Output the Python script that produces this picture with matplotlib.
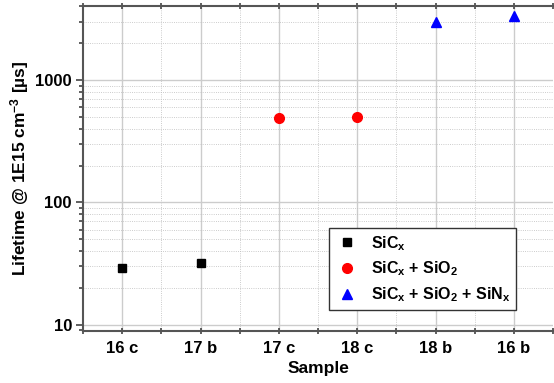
"""
Lifetime vs sample for different passivation stacks
"""

import numpy as np
import matplotlib.pyplot as plt
from matplotlib.ticker import LogLocator, NullFormatter, FixedLocator

#---------------------------------------------------------------------------------------------------
# Data
#---------------------------------------------------------------------------------------------------

samples = ['16 c', '17 b', '17 c', '18 c', '18 b', '16 b']

sicx_idx = [0, 1]
sicx_life = [29, 32]

sio2_idx = [2, 3]
sio2_life = [490, 495]

sinx_idx = [4, 5]
sinx_life = [2950, 3330]

labels = ['SiC$_\\mathbf{x}$', 'SiC$_\\mathbf{x}$ + SiO$_\\mathbf{2}$',
          'SiC$_\\mathbf{x}$ + SiO$_\\mathbf{2}$ + SiN$_\\mathbf{x}$']

#---------------------------------------------------------------------------------------------------
# Plot
#---------------------------------------------------------------------------------------------------

plt.rcParams['font.family'] = ['Liberation Sans', 'DejaVu Sans']
plt.rcParams['mathtext.fontset'] = 'custom'
plt.rcParams['mathtext.bf'] = 'Liberation Sans:bold'
plt.rcParams['mathtext.rm'] = 'Liberation Sans:bold'
plt.rcParams['mathtext.default'] = 'bf'

fig = plt.figure(figsize=(5.54, 3.83), dpi=100)
ax = fig.add_axes([83/554, 1 - 331/383, 470/554, 325/383])

ax.plot(sicx_idx, sicx_life, ls='none', marker='s', ms=6, c='k', label=labels[0])
ax.plot(sio2_idx, sio2_life, ls='none', marker='o', ms=7, c='#ff0000', label=labels[1])
ax.plot(sinx_idx, sinx_life, ls='none', marker='^', ms=7, c='#0000ff', label=labels[2])

ax.set_yscale('log')
ax.set_ylim(8.9, 4020)
ax.set_xlim(-0.5, 5.5)

ax.set_xticks(range(len(samples)))
ax.set_xticklabels(samples, fontsize=12, fontweight='bold')
ax.xaxis.set_minor_locator(FixedLocator(np.arange(-0.5, 5.6, 1.0)))
ax.set_yticks([10, 100, 1000])
ax.set_yticklabels(['10', '100', '1000'], fontsize=12, fontweight='bold')
ax.yaxis.set_minor_locator(LogLocator(base=10, subs=np.arange(2, 10)))
ax.yaxis.set_minor_formatter(NullFormatter())

ax.grid(which='major', c='#cccccc', lw=1.0, ls='-')
ax.grid(which='minor', c='#bbbbbb', lw=0.6, ls=':')
ax.set_axisbelow(True)

ax.tick_params(which='both', direction='out', top=True, right=False, width=1.2, color='#444444')
ax.tick_params(which='major', length=5, pad=3)
ax.tick_params(which='minor', length=3)
ax.tick_params(axis='x', which='both', top=True, direction='inout', length=5, pad=5)
for s in ax.spines.values():
    s.set_linewidth(1.5)
    s.set_color('#555555')
ax.spines['right'].set_visible(False)

ax.set_xlabel('Sample', fontsize=12.5, fontweight='bold', labelpad=3)
ax.set_ylabel('Lifetime @ 1E15 cm$^{-3}$ [\u00b5s]', fontsize=12.5, fontweight='bold', labelpad=3)

leg = ax.legend(loc='lower right', bbox_to_anchor=(0.921, 0.065), borderaxespad=0,
                fontsize=11.5, frameon=True, fancybox=False, edgecolor='#333333', framealpha=1,
                handletextpad=0.7, borderpad=0.35, labelspacing=0.45, handlelength=1.6)
for t in leg.get_texts():
    t.set_fontweight('bold')
leg.get_frame().set_linewidth(1.0)

fig.savefig('out.png', dpi=100)
